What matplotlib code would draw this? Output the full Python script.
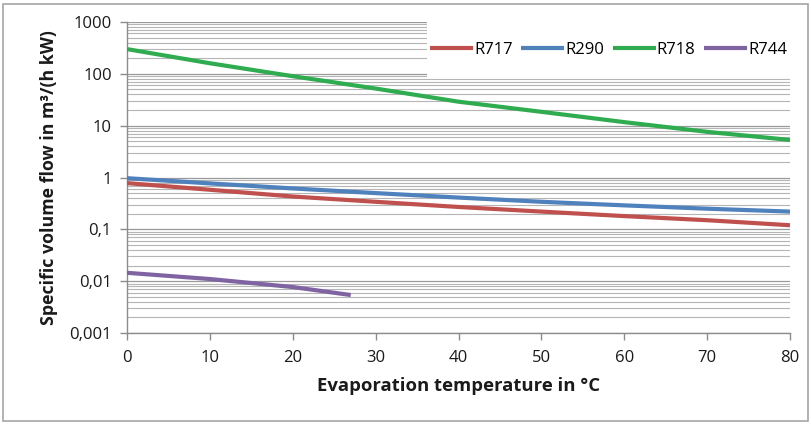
import matplotlib
matplotlib.use("Agg")
import matplotlib.pyplot as plt
from matplotlib.patches import Rectangle
from matplotlib.ticker import FixedLocator, LogLocator, NullFormatter

plt.rcParams['font.family'] = ['Open Sans', 'DejaVu Sans']

temps = [0, 10, 20, 30, 40, 50, 60, 70, 80]
r717 = [0.78, 0.58, 0.43, 0.34, 0.27, 0.22, 0.18, 0.15, 0.12]
r290 = [0.97, 0.77, 0.615, 0.50, 0.41, 0.34, 0.29, 0.25, 0.22]
r718 = [300, 160, 90, 52, 29, 18.5, 11.7, 7.6, 5.3]
r744_t = [0, 10, 20, 27]
r744 = [0.0145, 0.011, 0.0077, 0.0054]

yticks = [0.001, 0.01, 0.1, 1, 10, 100, 1000]
ylabels = ["0,001", "0,01", "0,1", "1", "10", "100", "1000"]
xticks = [0, 10, 20, 30, 40, 50, 60, 70, 80]

fig = plt.figure(figsize=(8.12, 4.24), dpi=100)
ax = fig.add_axes([127/812, 91/424, 663/812, 311/424])

lw = 3.0
ax.plot(temps, r717, color='#c0504d', lw=lw, label='R717', solid_capstyle='butt', zorder=3)
ax.plot(temps, r290, color='#4f81bd', lw=lw, label='R290', solid_capstyle='butt', zorder=3)
ax.plot(temps, r718, color='#2fac4f', lw=lw, label='R718', solid_capstyle='butt', zorder=3)
ax.plot(r744_t, r744, color='#8064a2', lw=lw, label='R744', solid_capstyle='butt', zorder=3)

ax.set_yscale('log')
ax.set_ylim(0.001, 1000)
ax.set_xlim(0, 80)
ax.yaxis.set_major_locator(FixedLocator(yticks))
ax.set_yticks(yticks)
ax.set_yticklabels(ylabels)
ax.yaxis.set_minor_locator(LogLocator(base=10, subs=range(2, 10)))
ax.yaxis.set_minor_formatter(NullFormatter())
ax.set_xticks(xticks)

ax.grid(True, which='major', axis='y', color='#9a9a9a', lw=0.9, zorder=0)
ax.grid(True, which='minor', axis='y', color='#b5b5b5', lw=0.8, zorder=0)
ax.set_axisbelow(True)

for s in ['top', 'right']:
    ax.spines[s].set_visible(False)
for s in ['left', 'bottom']:
    ax.spines[s].set_color('#8c8c8c')
    ax.spines[s].set_linewidth(1.0)

ax.tick_params(axis='both', which='major', labelsize=12, colors='#8c8c8c',
               labelcolor='#1a1a1a', length=5, width=1.0)
ax.tick_params(axis='y', which='minor', length=0)
ax.tick_params(axis='x', pad=7)
ax.tick_params(axis='y', pad=6)

ax.set_xlabel('Evaporation temperature in °C', fontsize=13.3, fontweight='bold',
              color='#1a1a1a', labelpad=8)
ax.set_ylabel('Specific volume flow in m³/(h kW)', fontsize=12.8, fontweight='bold',
              color='#1a1a1a', labelpad=8)

# legend area (white box covering grid)
lx0 = (427 - 127) / 663
ly0 = (333 - 78) / 311
ax.add_patch(Rectangle((lx0, ly0), 1 - lx0, 1 - ly0, transform=ax.transAxes,
                       facecolor='white', edgecolor='none', zorder=2))
leg = ax.legend(loc='center', ncol=4, frameon=False, fontsize=12,
                handlelength=2.6, handletextpad=0.05, columnspacing=0.5,
                borderaxespad=0, borderpad=0,
                bbox_to_anchor=(lx0, ly0, 1 - lx0, 1 - ly0))
leg.set_zorder(4)

fig.patches.append(Rectangle((3/812, 3/424), 805/812, 417/424, transform=fig.transFigure,
                             fill=False, edgecolor='#a6a6a6', lw=1.2))

fig.savefig('out.png', dpi=100)
